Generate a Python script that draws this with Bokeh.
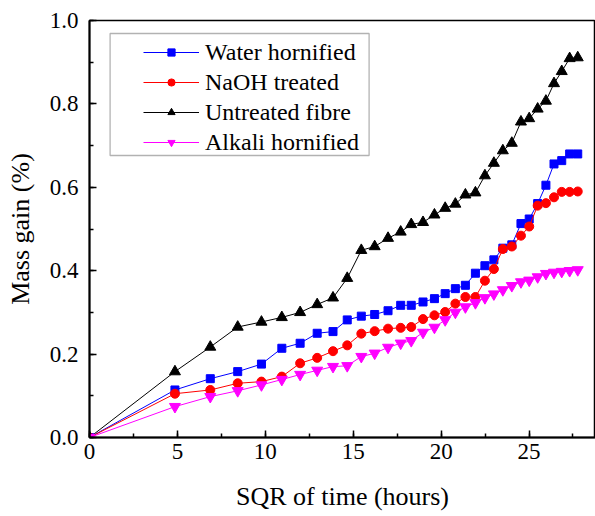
from bokeh.plotting import figure
from bokeh.models import (Range1d, SingleIntervalTicker, NumeralTickFormatter,
                          Legend, LegendItem, BoxAnnotation)
from bokeh.embed import file_html
from bokeh.resources import INLINE

# ---- data ----
sqr_time = [0, 4.86, 6.87, 8.43, 9.78, 10.94, 11.98, 12.95, 13.85, 14.66, 15.46,
            16.22, 16.98, 17.70, 18.30, 18.97, 19.62, 20.23, 20.81, 21.38, 21.95,
            22.49, 23.00, 23.51, 24.02, 24.54, 25.01, 25.49, 25.96, 26.42, 26.86,
            27.31, 27.77]

water_hornified = [0, 0.114, 0.141, 0.158, 0.176, 0.214, 0.226, 0.250, 0.254, 0.282,
                   0.291, 0.295, 0.304, 0.317, 0.317, 0.325, 0.333, 0.345, 0.357,
                   0.365, 0.394, 0.412, 0.426, 0.454, 0.462, 0.513, 0.524, 0.561,
                   0.605, 0.656, 0.664, 0.680, 0.680]

naoh_treated = [0, 0.105, 0.114, 0.130, 0.134, 0.146, 0.178, 0.191, 0.207, 0.221,
                0.249, 0.255, 0.261, 0.263, 0.265, 0.284, 0.293, 0.301, 0.321,
                0.337, 0.337, 0.376, 0.404, 0.452, 0.458, 0.484, 0.506, 0.556,
                0.562, 0.576, 0.589, 0.589, 0.590]

untreated_fibre = [0, 0.158, 0.217, 0.265, 0.277, 0.288, 0.300, 0.319, 0.335, 0.382,
                   0.449, 0.458, 0.478, 0.493, 0.511, 0.516, 0.534, 0.550, 0.560,
                   0.582, 0.587, 0.628, 0.658, 0.688, 0.706, 0.757, 0.765, 0.788,
                   0.807, 0.849, 0.878, 0.909, 0.911]

alkali_hornified = [0, 0.074, 0.098, 0.112, 0.126, 0.139, 0.151, 0.161, 0.170, 0.172,
                    0.194, 0.202, 0.216, 0.226, 0.232, 0.252, 0.264, 0.282, 0.300,
                    0.313, 0.323, 0.335, 0.344, 0.354, 0.364, 0.373, 0.377, 0.385,
                    0.393, 0.396, 0.398, 0.400, 0.402]

series_names = ["Water hornified", "NaOH treated", "Untreated fibre", "Alkali hornified"]

FONT = "Liberation Serif"

p = figure(width=595, height=516, output_backend="svg", toolbar_location=None,
           x_range=Range1d(0, 28.78), y_range=Range1d(0, 1.0),
           min_border_left=89, min_border_right=0, min_border_top=20,
           min_border_bottom=79)
p.background_fill_color = "white"
p.border_fill_color = "white"
p.grid.visible = False
p.outline_line_color = "black"
p.outline_line_width = 1.5

# axes
p.xaxis.ticker = SingleIntervalTicker(interval=5, num_minor_ticks=2)
p.yaxis.ticker = SingleIntervalTicker(interval=0.2, num_minor_ticks=2)
p.yaxis.formatter = NumeralTickFormatter(format="0.0")
for ax in (p.xaxis, p.yaxis):
    ax.axis_line_width = 2
    ax.axis_line_color = "black"
    ax.major_tick_in = 7
    ax.major_tick_out = 0
    ax.minor_tick_in = 4
    ax.minor_tick_out = 0
    ax.major_tick_line_width = 1.5
    ax.minor_tick_line_width = 1.5
    ax.major_label_text_font = FONT
    ax.major_label_text_font_size = "23px"
    ax.major_label_text_color = "black"
    ax.axis_label_text_font = FONT
    ax.axis_label_text_font_size = "26px"
    ax.axis_label_text_font_style = "normal"
    ax.axis_label_text_color = "black"
p.xaxis.axis_label = "SQR of time (hours)"
p.yaxis.axis_label = "Mass gain (%)"
p.xaxis.major_label_standoff = 6
p.yaxis.major_label_standoff = 11
p.xaxis.axis_label_standoff = 20
p.yaxis.axis_label_standoff = 12

styles = [
    (water_hornified, "#0000FF", "square", 8),
    (naoh_treated, "#FF0000", "circle", 9),
    (untreated_fibre, "#000000", "triangle", 11),
    (alkali_hornified, "#FF00FF", "inverted_triangle", 11),
]

items = []
for (vals, color, marker, size), name in zip(styles, series_names):
    ln = p.line(sqr_time, vals, line_color=color, line_width=1)
    sc = p.scatter(sqr_time, vals, marker=marker, size=size,
                   fill_color=color, line_color=color)
    items.append(LegendItem(label=name, renderers=[ln, sc]))

# legend frame
frame_box = BoxAnnotation(left=20.6, right=279.6, top=404, bottom=282,
                          left_units="screen", right_units="screen",
                          top_units="screen", bottom_units="screen",
                          fill_alpha=0, line_color="black", line_width=1.3)
p.add_layout(frame_box)

legend = Legend(items=items, location=(54, 280), padding=0, spacing=0,
                glyph_width=56, glyph_height=18, label_height=30,
                label_standoff=6, label_text_font=FONT,
                label_text_font_size="24px", label_text_color="black",
                border_line_alpha=0, background_fill_alpha=0, margin=0)
p.add_layout(legend)

open("out.html", "w").write(file_html(p, INLINE))
